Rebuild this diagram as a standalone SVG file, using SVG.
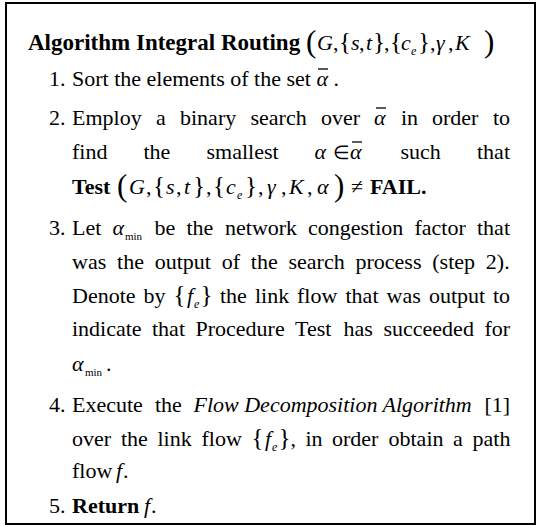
<svg xmlns="http://www.w3.org/2000/svg" width="540" height="526" viewBox="0 0 540 526">
<style>
text{font-family:"Liberation Serif","Times New Roman",serif;font-size:22px;fill:#000}
.b{font-weight:bold}
.i{font-style:italic}
.br{font-size:25px}
.pa{font-size:31px}
.sub{font-size:12px;font-style:italic}
.subr{font-size:11px}
.el{font-size:19px}
.bar{stroke:#000;stroke-width:1.3}
.frame{stroke:#000;stroke-width:2;fill:none}
</style>
<rect width="540" height="526" fill="#fff"/>
<g id="frame">
<rect class="frame" x="6" y="3" width="529" height="521"/>
</g>
<g id="title">
<text x="28" y="50" class="b" style="font-size:23px">Algorithm Integral Routing</text>
<text y="50"><tspan x="306" class="pa" dy="2">(</tspan><tspan x="317" class="i" dy="-2">G</tspan><tspan x="333">,</tspan><tspan x="339" class="br">{</tspan><tspan x="351" class="i">s</tspan><tspan x="359">,</tspan><tspan x="366" class="i">t</tspan><tspan x="373" class="br">}</tspan><tspan x="384">,</tspan><tspan x="390" class="br">{</tspan><tspan x="401" class="i">c</tspan><tspan x="411" class="sub" dy="5">e</tspan><tspan x="418" class="br" dy="-5">}</tspan><tspan x="430">,</tspan><tspan x="436" class="i">γ</tspan><tspan x="448">,</tspan><tspan x="455" class="i">K</tspan><tspan x="484" class="pa" dy="2">)</tspan></text>
</g>
<g id="step1">
<text x="49" y="86">1.</text>
<text x="72" y="86">Sort the elements of the set <tspan class="i">α</tspan> .</text>
<line class="bar" x1="318" y1="69" x2="328" y2="69"/>
</g>
<g id="step2">
<text x="49" y="125">2.</text>
<text y="125"><tspan x="72">Employ</tspan><tspan x="156">a</tspan><tspan x="180">binary</tspan><tspan x="250.5">search</tspan><tspan x="321">over</tspan><tspan x="374" class="i">α</tspan><tspan x="401">in</tspan><tspan x="432">order</tspan><tspan x="493">to</tspan></text>
<line class="bar" x1="376" y1="108" x2="386" y2="108"/>
<text y="159"><tspan x="72">find</tspan><tspan x="143.5">the</tspan><tspan x="206.5">smallest</tspan><tspan x="314.5" class="i">α</tspan><tspan x="333" class="el">∈</tspan><tspan x="350" class="i">α</tspan><tspan x="400.5">such</tspan><tspan x="477">that</tspan></text>
<line class="bar" x1="352" y1="142" x2="362" y2="142"/>
<text y="194"><tspan x="72" class="b">Test</tspan><tspan x="117" class="pa" dy="2">(</tspan><tspan x="129" class="i" dy="-2">G</tspan><tspan x="146">,</tspan><tspan x="153" class="br">{</tspan><tspan x="166" class="i">s</tspan><tspan x="176">,</tspan><tspan x="184" class="i">t</tspan><tspan x="193" class="br">}</tspan><tspan x="206">,</tspan><tspan x="213" class="br">{</tspan><tspan x="226" class="i">c</tspan><tspan x="237" class="sub" dy="5">e</tspan><tspan x="245" class="br" dy="-5">}</tspan><tspan x="258">,</tspan><tspan x="267" class="i">γ</tspan><tspan x="281">,</tspan><tspan x="289" class="i">K</tspan><tspan x="307">,</tspan><tspan x="317" class="i">α</tspan><tspan x="334" class="pa" dy="2">)</tspan><tspan x="351" dy="-2">≠</tspan><tspan x="370" class="b">FAIL.</tspan></text>
</g>
<g id="step3">
<text x="49" y="235">3.</text>
<text y="235"><tspan x="72">Let</tspan><tspan x="112.5" class="i">α</tspan><tspan x="125" class="subr" dy="5">min</tspan><tspan x="154.5" dy="-5">be</tspan><tspan x="186.5">the</tspan><tspan x="225">network</tspan><tspan x="308">congestion</tspan><tspan x="414.5">factor</tspan><tspan x="477">that</tspan></text>
<text x="72" y="269" word-spacing="5.3">was the output of the search process (step 2).</text>
<text y="303"><tspan x="72">Denote</tspan><tspan x="143.5">by</tspan><tspan x="173.5" class="br">{</tspan><tspan x="187" class="i">f</tspan><tspan x="194" class="sub" dy="5">e</tspan><tspan x="200.5" class="br" dy="-5">}</tspan><tspan x="220">the</tspan><tspan x="255">link</tspan><tspan x="297">flow</tspan><tspan x="345.5">that</tspan><tspan x="386.5">was</tspan><tspan x="429">output</tspan><tspan x="493">to</tspan></text>
<text y="336"><tspan x="72">indicate</tspan><tspan x="152">that</tspan><tspan x="195.5">Procedure</tspan><tspan x="295">Test</tspan><tspan x="343.5">has</tspan><tspan x="383.5">succeeded</tspan><tspan x="484.5">for</tspan></text>
<text y="371"><tspan x="72" class="i">α</tspan><tspan x="85" class="subr" dy="5">min</tspan><tspan x="106" dy="-5">.</tspan></text>
</g>
<g id="step4">
<text x="49" y="412">4.</text>
<text y="412"><tspan x="72">Execute</tspan><tspan x="155">the</tspan><tspan x="193.5" class="i">Flow Decomposition Algorithm</tspan><tspan x="484.5">[1]</tspan></text>
<text y="446"><tspan x="72">over</tspan><tspan x="121">the</tspan><tspan x="157.5">link</tspan><tspan x="201.5">flow</tspan><tspan x="251.5" class="br">{</tspan><tspan x="265" class="i">f</tspan><tspan x="272" class="sub" dy="5">e</tspan><tspan x="278.5" class="br" dy="-5">}</tspan><tspan x="290.5">,</tspan><tspan x="305.5">in</tspan><tspan x="332">order</tspan><tspan x="388.5">obtain</tspan><tspan x="453">a</tspan><tspan x="472.5">path</tspan></text>
<text y="478"><tspan x="72">flow</tspan><tspan x="116" class="i">f</tspan><tspan x="123">.</tspan></text>
</g>
<g id="step5">
<text x="49" y="513">5.</text>
<text y="513"><tspan x="72" class="b">Return</tspan><tspan x="144" class="i">f</tspan><tspan x="151">.</tspan></text>
</g>
</svg>
